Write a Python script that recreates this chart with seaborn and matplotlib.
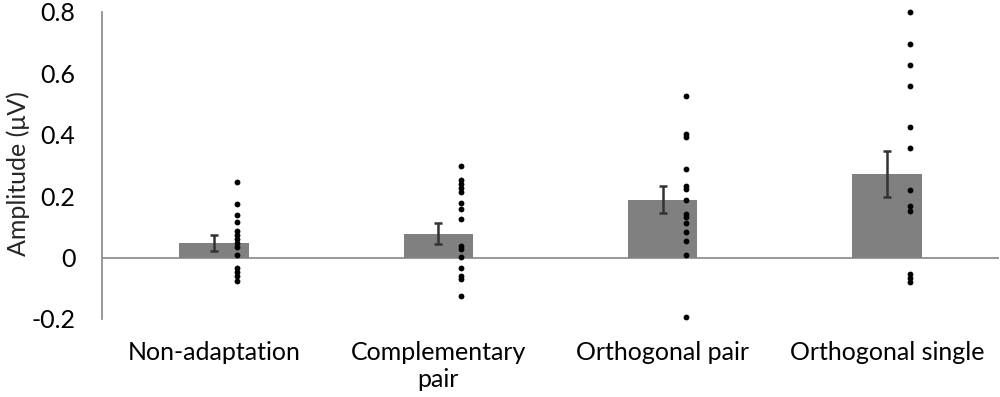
import matplotlib
matplotlib.use("Agg")
import matplotlib.pyplot as plt
import matplotlib.transforms as mtransforms
import seaborn as sns
import pandas as pd

categories = ["Non-adaptation", "Complementary\npair", "Orthogonal pair", "Orthogonal single"]
bar_means = [0.048, 0.078, 0.189, 0.272]
bar_sem = [0.026, 0.035, 0.045, 0.075]

dots_non_adaptation = [0.245, 0.175, 0.14, 0.115, 0.088, 0.075, 0.061, 0.047, 0.034, 0.007,
                       -0.034, -0.048, -0.061, -0.075]
dots_complementary = [0.298, 0.254, 0.24, 0.228, 0.215, 0.179, 0.157, 0.126, 0.039, 0.028,
                      0.002, -0.034, -0.061, -0.07, -0.124]
dots_orth_pair = [0.526, 0.404, 0.393, 0.287, 0.232, 0.224, 0.186, 0.143, 0.132, 0.112,
                  0.083, 0.053, 0.01, -0.193]
dots_orth_single = [0.8, 0.695, 0.627, 0.558, 0.425, 0.357, 0.219, 0.168, 0.151,
                    -0.053, -0.066, -0.081]

y_ticks = [-0.2, 0, 0.2, 0.4, 0.6, 0.8]
y_tick_labels = ["-0.2", "0", "0.2", "0.4", "0.6", "0.8"]

sns.set_theme(style="white")
plt.rcParams["font.family"] = ["Lato", "DejaVu Sans"]

bars_df = pd.DataFrame({"cat": categories, "mean": bar_means})
all_dots = [dots_non_adaptation, dots_complementary, dots_orth_pair, dots_orth_single]
dots_df = pd.DataFrame({
    "cat": [c for c, d in zip(categories, all_dots) for _ in d],
    "val": [v for d in all_dots for v in d],
})

fig = plt.figure(figsize=(10, 3.97), dpi=100)
ax = fig.add_axes([0.102, 0.1965, 0.897, 0.7735])

sns.barplot(data=bars_df, x="cat", y="mean", order=categories, color="#808080",
            saturation=1, width=0.31, errorbar=None, linewidth=0, ax=ax, zorder=2)
ax.errorbar(range(len(categories)), bar_means, yerr=bar_sem, fmt="none",
            ecolor="#333333", elinewidth=1.8, capsize=3, capthick=1.8, zorder=3)

n_before = len(ax.collections)
sns.stripplot(data=dots_df, x="cat", y="val", order=categories, color="black",
              jitter=False, size=4.2, linewidth=0, ax=ax, zorder=4)
offset = mtransforms.ScaledTranslation(23 / 100, 0, fig.dpi_scale_trans)
for coll in ax.collections[n_before:]:
    coll.set_transform(coll.get_transform() + offset)
    coll.set_clip_on(False)

ax.axhline(0, color="#868686", lw=1.2, zorder=2.5)
ax.set_ylim(-0.2, 0.8)
ax.set_xlim(-0.5, 3.5)
ax.set_yticks(y_ticks)
ax.set_yticklabels(y_tick_labels)
ax.tick_params(axis="both", length=0, labelsize=18, colors="black")
ax.tick_params(axis="y", pad=19)
ax.tick_params(axis="x", pad=16)
ax.set_xlabel("")
ax.set_ylabel("Amplitude (μV)", fontsize=18)
ax.yaxis.set_label_coords(-0.0936, 0.472)
ax.yaxis.label.set_va("center")
for s in ["top", "right", "bottom"]:
    ax.spines[s].set_visible(False)
ax.spines["left"].set_color("#868686")
ax.spines["left"].set_linewidth(1.2)

fig.savefig("out.png", dpi=100)
